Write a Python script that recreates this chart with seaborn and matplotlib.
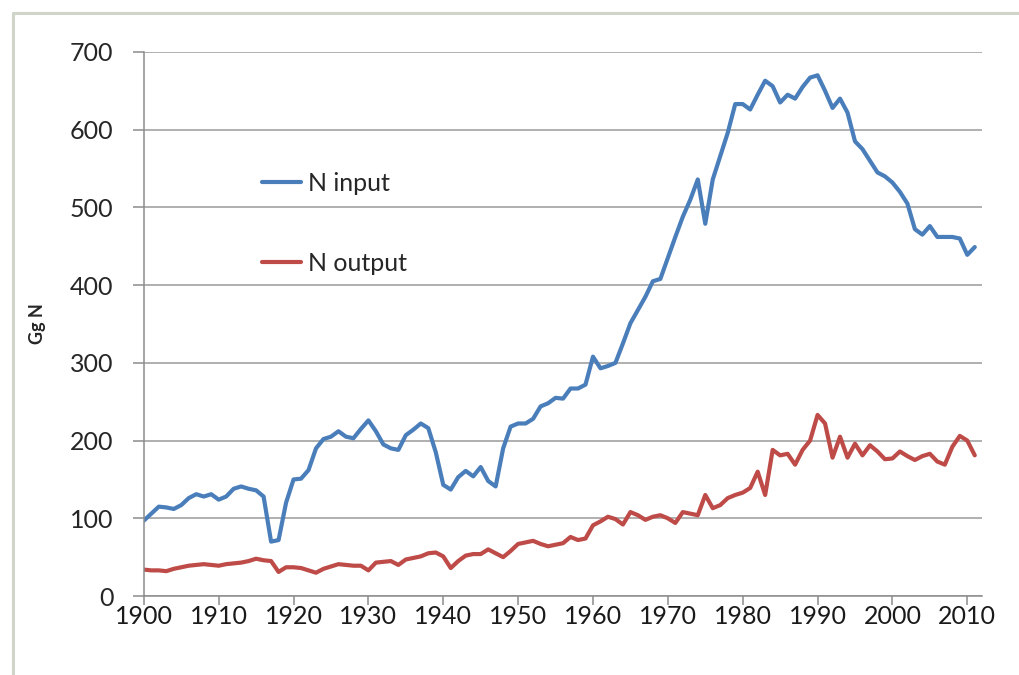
import numpy as np
import pandas as pd
import matplotlib
matplotlib.use("Agg")
import matplotlib.pyplot as plt
from matplotlib.lines import Line2D
import seaborn as sns


years = list(range(1900, 2012))

n_input = [
    97, 106, 115, 114, 112, 117, 126, 131, 128, 131,
    124, 128, 138, 141, 138, 136, 128, 70, 72, 120,
    150, 151, 162, 190, 202, 205, 212, 205, 203, 215,
    226, 212, 195, 190, 188, 207, 214, 222, 216, 185,
    143, 137, 153, 161, 154, 166, 148, 141, 190, 218,
    222, 222, 228, 244, 248, 255, 254, 267, 267, 272,
    308, 293, 296, 300, 325, 351, 368, 385, 405, 408,
    435, 462, 488, 510, 536, 479, 536, 566, 596, 633,
    633, 626, 645, 663, 656, 635, 645, 640, 655, 667,
    670, 650, 628, 640, 622, 585, 575, 560, 545, 540,
    532, 520, 505, 472, 465, 476, 462, 462, 462, 460,
    439, 449,
]

n_output = [
    34, 33, 33, 32, 35, 37, 39, 40, 41, 40,
    39, 41, 42, 43, 45, 48, 46, 45, 31, 37,
    37, 36, 33, 30, 35, 38, 41, 40, 39, 39,
    33, 43, 44, 45, 40, 47, 49, 51, 55, 56,
    51, 36, 45, 52, 54, 54, 60, 55, 50, 58,
    67, 69, 71, 67, 64, 66, 68, 76, 72, 74,
    91, 96, 102, 99, 92, 108, 104, 98, 102, 104,
    100, 94, 108, 106, 104, 130, 113, 117, 126, 130,
    133, 139, 160, 130, 188, 181, 183, 169, 188, 200,
    233, 222, 178, 205, 178, 196, 181, 194, 186, 176,
    177, 186, 180, 175, 180, 183, 173, 169, 192, 206,
    200, 181,
]

series_names = ["N input", "N output"]
y_ticks = [0, 100, 200, 300, 400, 500, 600, 700]
x_ticks = list(range(1900, 2020, 10))

df = pd.DataFrame({
    "year": years * 2,
    "value": n_input + n_output,
    "series": [series_names[0]] * len(years) + [series_names[1]] * len(years),
})

sns.set_style("white")
plt.rcParams["font.family"] = ["Lato", "DejaVu Sans"]

fig = plt.figure(figsize=(10.2, 6.75), dpi=100)
fig.patch.set_facecolor("white")
ax = fig.add_axes([0.141, 0.117, 0.822, 0.806])

sns.lineplot(
    data=df, x="year", y="value", hue="series",
    palette={"N input": "#4a7ebb", "N output": "#be4b48"},
    linewidth=3.0, ax=ax, sort=False,
)

ax.set_xlim(1900, 2012)
ax.set_ylim(0, 700)
ax.set_yticks(y_ticks)
ax.set_xticks(x_ticks)
ax.grid(axis="y", color="#9a9a9a", linewidth=1.1)
ax.set_axisbelow(True)

for side in ["top", "right"]:
    ax.spines[side].set_visible(False)
for side in ["left", "bottom"]:
    ax.spines[side].set_color("#8c8c8c")
    ax.spines[side].set_linewidth(1.1)

ax.tick_params(axis="y", direction="out", length=8, width=1.1, color="#8c8c8c",
               pad=14, labelsize=18, labelcolor="#262626")
ax.tick_params(axis="x", direction="out", length=6.5, width=1.1, color="#8c8c8c",
               pad=0, labelsize=18, labelcolor="#1a1a1a")
ax.tick_params(left=True, bottom=True)

ax.set_xlabel("")
ax.set_ylabel("Gg N", fontsize=13, fontweight="bold", labelpad=17)

leg = ax.legend(
    loc="upper left", bbox_to_anchor=(0.141, 0.78), frameon=False,
    fontsize=18, handlelength=1.55, handletextpad=0.3, labelspacing=2.3,
    borderaxespad=0, borderpad=0,
)
for line in leg.get_lines():
    line.set_linewidth(3.0)

# light frame of the original picture (top and left edges)
frame_color = "#cfd5c8"
fig.add_artist(Line2D([13 / 1020, 1.0], [1 - 13 / 675, 1 - 13 / 675],
                      color=frame_color, linewidth=2.2, transform=fig.transFigure))
fig.add_artist(Line2D([13 / 1020, 13 / 1020], [1 - 13 / 675, 0.0],
                      color=frame_color, linewidth=2.2, transform=fig.transFigure))

fig.savefig("out.png", dpi=100)
